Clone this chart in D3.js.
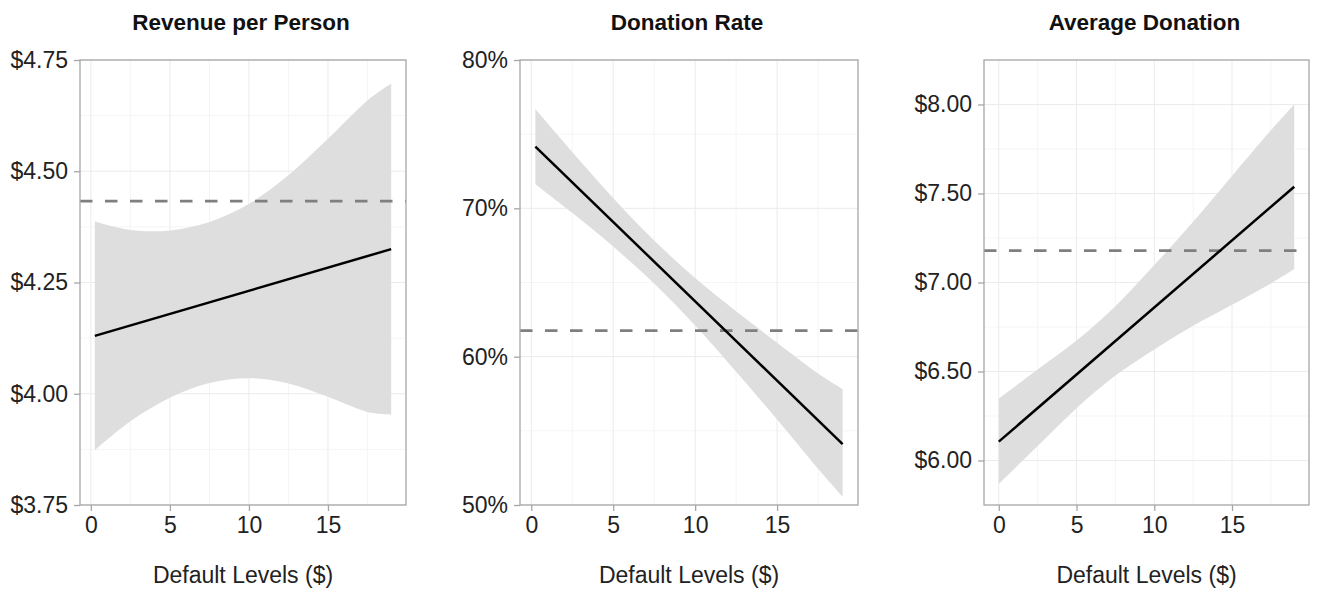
<!DOCTYPE html>
<html>
<head>
<meta charset="utf-8">
<script src="https://cdn.jsdelivr.net/npm/d3@7"></script>
<style>
  html, body { margin: 0; padding: 0; background: #fff; }
  svg { display: block; font-family: "Liberation Sans", Arial, Helvetica, sans-serif; }
</style>
</head>
<body>
<svg id="chart" width="1319" height="590"></svg>
<script>
// ---------------- Data ----------------
const panelTitles = ["Revenue per Person", "Donation Rate", "Average Donation"];
const xAxisTitle = "Default Levels ($)";
const xTicks = [0, 5, 10, 15];

// Revenue per Person
const revBandX  = [0.25, 2.5, 5, 7.5, 10, 12.5, 15, 17.5, 19];
const revUpper  = [4.387, 4.368, 4.367, 4.386, 4.427, 4.491, 4.573, 4.659, 4.697];
const revLower  = [3.873, 3.938, 3.991, 4.024, 4.035, 4.023, 3.993, 3.959, 3.953];
const revFitX   = [0.25, 19];
const revFit    = [4.130, 4.325];
const revRef    = 4.433;
const revYTicks = [3.75, 4.00, 4.25, 4.50, 4.75];

// Donation Rate
const rateBandX  = [0.25, 2.5, 5, 7.5, 10, 12.5, 15, 17.5, 19];
const rateUpper  = [0.7669, 0.7380, 0.7070, 0.6783, 0.6530, 0.6306, 0.6094, 0.5887, 0.5782];
const rateLower  = [0.7163, 0.6970, 0.6742, 0.6493, 0.6210, 0.5898, 0.5576, 0.5245, 0.5056];
const rateFitX   = [0.25, 19];
const rateFit    = [0.7416, 0.5410];
const rateRef    = 0.6175;
const rateYTicks = [0.5, 0.6, 0.7, 0.8];

// Average Donation
const avgBandX  = [0, 2.5, 5, 7.5, 10, 12.5, 15, 17.5, 19];
const avgUpper  = [6.348, 6.511, 6.674, 6.867, 7.098, 7.341, 7.599, 7.855, 8.000];
const avgLower  = [5.868, 6.081, 6.294, 6.477, 6.624, 6.757, 6.875, 6.995, 7.076];
const avgFitX   = [0, 19];
const avgFit    = [6.106, 7.538];
const avgRef    = 7.179;
const avgYTicks = [6.00, 6.50, 7.00, 7.50, 8.00];

// ---------------- Layout ----------------
const dollar = v => "$" + d3.format(".2f")(v);
const pct = d3.format(".0%");

const panels = [
  { title: panelTitles[0], left: 80, right: 406, xDomain: [-0.6875, 19.9375], yDomain: [3.75, 4.75],
    yTicks: revYTicks, fmt: dollar, bandX: revBandX, upper: revUpper, lower: revLower,
    fitX: revFitX, fit: revFit, ref: revRef },
  { title: panelTitles[1], left: 520, right: 858, xDomain: [-0.6875, 19.9375], yDomain: [0.5, 0.8],
    yTicks: rateYTicks, fmt: pct, bandX: rateBandX, upper: rateUpper, lower: rateLower,
    fitX: rateFitX, fit: rateFit, ref: rateRef },
  { title: panelTitles[2], left: 984, right: 1309, xDomain: [-0.95, 19.95], yDomain: [5.75, 8.25],
    yTicks: avgYTicks, fmt: dollar, bandX: avgBandX, upper: avgUpper, lower: avgLower,
    fitX: avgFitX, fit: avgFit, ref: avgRef }
];
const plotTop = 60, plotBottom = 505;

const svg = d3.select("#chart");

panels.forEach(p => {
  const x = d3.scaleLinear().domain(p.xDomain).range([p.left, p.right]);
  const y = d3.scaleLinear().domain(p.yDomain).range([plotBottom, plotTop]);
  const g = svg.append("g");

  // minor grid
  const xMinor = xTicks.map(v => v + 2.5);
  const yMinor = [];
  for (let i = 0; i < p.yTicks.length - 1; i++) yMinor.push((p.yTicks[i] + p.yTicks[i + 1]) / 2);
  const step = p.yTicks[1] - p.yTicks[0];
  [p.yTicks[0] - step / 2, p.yTicks[p.yTicks.length - 1] + step / 2].forEach(v => {
    if (v > p.yDomain[0] + 1e-9 && v < p.yDomain[1] - 1e-9) yMinor.push(v);
  });

  g.selectAll(".xminor").data(xMinor.filter(v => v < p.xDomain[1])).enter().append("line")
    .attr("x1", d => x(d)).attr("x2", d => x(d)).attr("y1", plotTop).attr("y2", plotBottom)
    .attr("stroke", "#f5f5f5").attr("stroke-width", 1);
  g.selectAll(".yminor").data(yMinor).enter().append("line")
    .attr("x1", p.left).attr("x2", p.right).attr("y1", d => y(d)).attr("y2", d => y(d))
    .attr("stroke", "#f5f5f5").attr("stroke-width", 1);
  // major grid
  g.selectAll(".xmajor").data(xTicks).enter().append("line")
    .attr("x1", d => x(d)).attr("x2", d => x(d)).attr("y1", plotTop).attr("y2", plotBottom)
    .attr("stroke", "#ebebeb").attr("stroke-width", 1);
  g.selectAll(".ymajor").data(p.yTicks).enter().append("line")
    .attr("x1", p.left).attr("x2", p.right).attr("y1", d => y(d)).attr("y2", d => y(d))
    .attr("stroke", "#ebebeb").attr("stroke-width", 1);

  // band
  const bandData = p.bandX.map((bx, i) => ({ x: bx, lo: p.lower[i], hi: p.upper[i] }));
  g.append("path").datum(bandData)
    .attr("fill", "#dedede")
    .attr("d", d3.area().x(d => x(d.x)).y0(d => y(d.lo)).y1(d => y(d.hi)).curve(d3.curveCatmullRom));

  // reference dashed line
  g.append("line")
    .attr("x1", p.left).attr("x2", p.right).attr("y1", y(p.ref)).attr("y2", y(p.ref))
    .attr("stroke", "#7f7f7f").attr("stroke-width", 2.8).attr("stroke-dasharray", "12.5,12.5");

  // fitted line
  const fitData = p.fitX.map((fx, i) => ({ x: fx, y: p.fit[i] }));
  g.append("path").datum(fitData)
    .attr("fill", "none").attr("stroke", "#000").attr("stroke-width", 2.5)
    .attr("d", d3.line().x(d => x(d.x)).y(d => y(d.y)));

  // border
  g.append("rect")
    .attr("x", p.left).attr("y", plotTop).attr("width", p.right - p.left).attr("height", plotBottom - plotTop)
    .attr("fill", "none").attr("stroke", "#a6a6a6").attr("stroke-width", 1.3);

  // axes
  const xAxis = g.append("g").attr("transform", `translate(0,${plotBottom})`)
    .call(d3.axisBottom(x).tickValues(xTicks).tickSize(6).tickPadding(5.5).tickFormat(d3.format("d")));
  const yAxis = g.append("g").attr("transform", `translate(${p.left},0)`)
    .call(d3.axisLeft(y).tickValues(p.yTicks).tickSize(6).tickPadding(6).tickFormat(p.fmt));
  [xAxis, yAxis].forEach(a => {
    a.select(".domain").remove();
    a.selectAll(".tick line").attr("stroke", "#a6a6a6").attr("stroke-width", 1.3);
    a.selectAll(".tick text").attr("fill", "#222").style("font-size", "23px")
      .style("font-family", '"Liberation Sans", Arial, sans-serif');
  });

  const cx = (p.left + p.right) / 2;
  // title
  g.append("text").attr("x", cx - 2).attr("y", 30).attr("text-anchor", "middle")
    .style("font-size", "22.5px").style("font-weight", "bold").attr("fill", "#111")
    .text(p.title);
  // x axis title
  g.append("text").attr("x", cx).attr("y", 583).attr("text-anchor", "middle")
    .style("font-size", "23px").attr("fill", "#222")
    .text(xAxisTitle);
});
</script>
</body>
</html>
